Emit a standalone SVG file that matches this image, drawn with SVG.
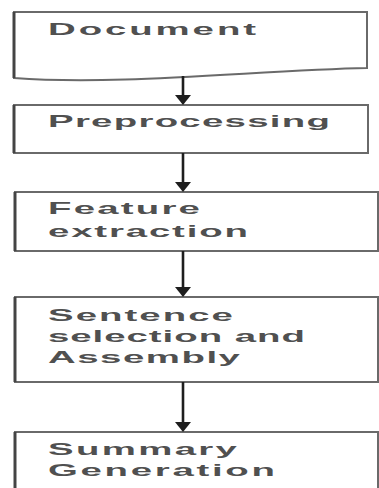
<svg xmlns="http://www.w3.org/2000/svg" width="379" height="488" viewBox="0 0 379 488">
<defs>
<style>
.box{fill:#fff;stroke:#6a6a6a;stroke-width:2}
.edge{stroke:#444;stroke-width:3;fill:none}
.lbl{font-family:"Liberation Sans",Arial,sans-serif;font-size:16px;font-weight:bold;fill:#505050}
.conn{stroke:#1e1e1e;stroke-width:2.6;fill:none;marker-end:url(#ah)}
</style>
<marker id="ah" markerUnits="userSpaceOnUse" markerWidth="10" markerHeight="16" refX="4" refY="8" orient="auto">
<path d="M0,0 L10,8 L0,16 z" fill="#1e1e1e"/>
</marker>
</defs>
<rect width="379" height="488" fill="#fff"/>
<g id="document">
<path class="box" d="M14,12 H367 V68 C260,70 120,86 14,78 Z"/>
<line class="edge" x1="14" y1="12" x2="14" y2="78"/>
<g transform="translate(48,35) scale(2.4,1)"><text class="lbl" letter-spacing="1.21">Document</text></g>
</g>
<g id="preprocessing">
<rect class="box" x="14" y="105" width="354" height="48"/>
<line class="edge" x1="14" y1="105" x2="14" y2="153"/>
<g transform="translate(48,127) scale(2.4,1)"><text class="lbl" letter-spacing="0.53">Preprocessing</text></g>
</g>
<g id="feature">
<rect class="box" x="15" y="192" width="363" height="59"/>
<line class="edge" x1="15" y1="192" x2="15" y2="251"/>
<g transform="translate(48,214) scale(2.4,1)"><text class="lbl" letter-spacing="0.92">Feature</text></g>
<g transform="translate(48,237) scale(2.4,1)"><text class="lbl" letter-spacing="0.76">extraction</text></g>
</g>
<g id="sentence">
<rect class="box" x="15" y="297" width="363" height="85"/>
<line class="edge" x1="15" y1="297" x2="15" y2="382"/>
<g transform="translate(48,321) scale(2.4,1)"><text class="lbl" letter-spacing="0.85">Sentence</text></g>
<g transform="translate(48,342) scale(2.4,1)"><text class="lbl" letter-spacing="0.4">selection and</text></g>
<g transform="translate(48,363) scale(2.4,1)"><text class="lbl" letter-spacing="0.63">Assembly</text></g>
</g>
<g id="summary">
<rect class="box" x="15" y="432" width="363" height="80"/>
<line class="edge" x1="15" y1="432" x2="15" y2="490"/>
<g transform="translate(48,455) scale(2.4,1)"><text class="lbl" letter-spacing="0.97">Summary</text></g>
<g transform="translate(48,476) scale(2.4,1)"><text class="lbl" letter-spacing="1.12">Generation</text></g>
</g>
<g id="connectors">
<line class="conn" x1="183" y1="76" x2="183" y2="99"/>
<line class="conn" x1="183" y1="153" x2="183" y2="186"/>
<line class="conn" x1="183" y1="251" x2="183" y2="291"/>
<line class="conn" x1="183" y1="382" x2="183" y2="426"/>
</g>
</svg>
